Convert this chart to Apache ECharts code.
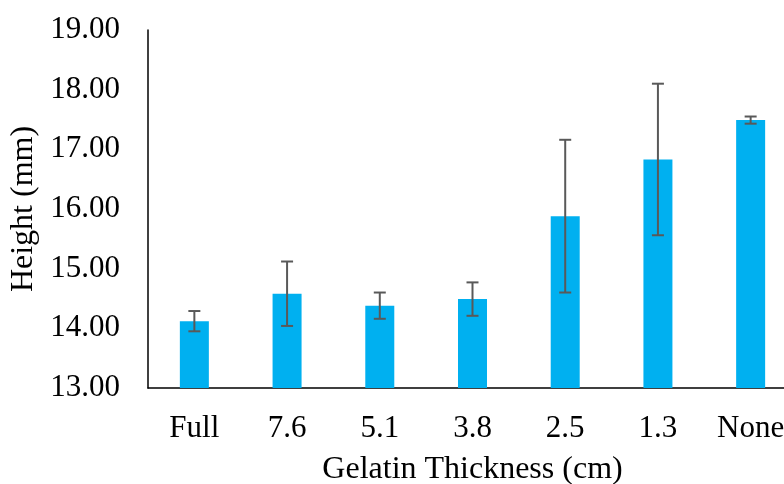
<!DOCTYPE html>
<html><head><meta charset="utf-8">
<script src="https://cdn.jsdelivr.net/npm/echarts@6/dist/echarts.min.js"></script>
<style>html,body{margin:0;padding:0;background:#fff;overflow:hidden}#c{width:800px;height:484px}</style>
</head><body><div id="c"></div>
<script>
var categories = ['Full', '7.6', '5.1', '3.8', '2.5', '1.3', 'None'];
var heights = [14.12, 14.58, 14.38, 14.49, 15.88, 16.83, 17.49];
var errors = [0.17, 0.54, 0.22, 0.28, 1.28, 1.27, 0.06];
var yTicks = [13, 14, 15, 16, 17, 18, 19];

var font = 'Liberation Serif, Times New Roman, serif';
var chart = echarts.init(document.getElementById('c'), null, {renderer: 'canvas'});
var errData = heights.map(function (h, i) { return [i, h - errors[i], h + errors[i]]; });
chart.setOption({
  animation: false,
  grid: {left: 148, top: 30, width: 649, height: 358, outerBoundsMode: 'none', containLabel: false},
  xAxis: {
    type: 'category', data: categories,
    axisLine: {lineStyle: {color: '#000', width: 1.5}},
    axisTick: {show: false},
    axisLabel: {fontFamily: font, fontSize: 31, color: '#000', margin: 25},
    name: 'Gelatin Thickness (cm)', nameLocation: 'middle', nameGap: 66,
    nameTextStyle: {fontFamily: font, fontSize: 32, color: '#000'}
  },
  yAxis: {
    type: 'value', min: yTicks[0], max: yTicks[yTicks.length - 1], interval: 1,
    axisLine: {show: true, lineStyle: {color: '#000', width: 1.5}},
    axisTick: {show: false},
    splitLine: {show: false},
    axisLabel: {fontFamily: font, fontSize: 31, color: '#000', margin: 28,
      formatter: function (v) { return v.toFixed(2); }},
    name: 'Height (mm)', nameLocation: 'middle', nameGap: 106,
    nameTextStyle: {fontFamily: font, fontSize: 32, color: '#000'}
  },
  series: [{
    type: 'bar', data: heights, barWidth: 29,
    itemStyle: {color: '#00B0F0'}
  }, {
    type: 'custom', data: errData,
    renderItem: function (params, api) {
      var x = api.value(0);
      var lo = api.coord([x, api.value(1)]);
      var hi = api.coord([x, api.value(2)]);
      var hw = 6;
      var st = {stroke: '#595959', lineWidth: 2};
      return {type: 'group', children: [
        {type: 'line', shape: {x1: lo[0], y1: lo[1], x2: hi[0], y2: hi[1]}, style: st},
        {type: 'line', shape: {x1: lo[0] - hw, y1: lo[1], x2: lo[0] + hw, y2: lo[1]}, style: st},
        {type: 'line', shape: {x1: hi[0] - hw, y1: hi[1], x2: hi[0] + hw, y2: hi[1]}, style: st}
      ]};
    },
    z: 5
  }]
});
</script></body></html>
